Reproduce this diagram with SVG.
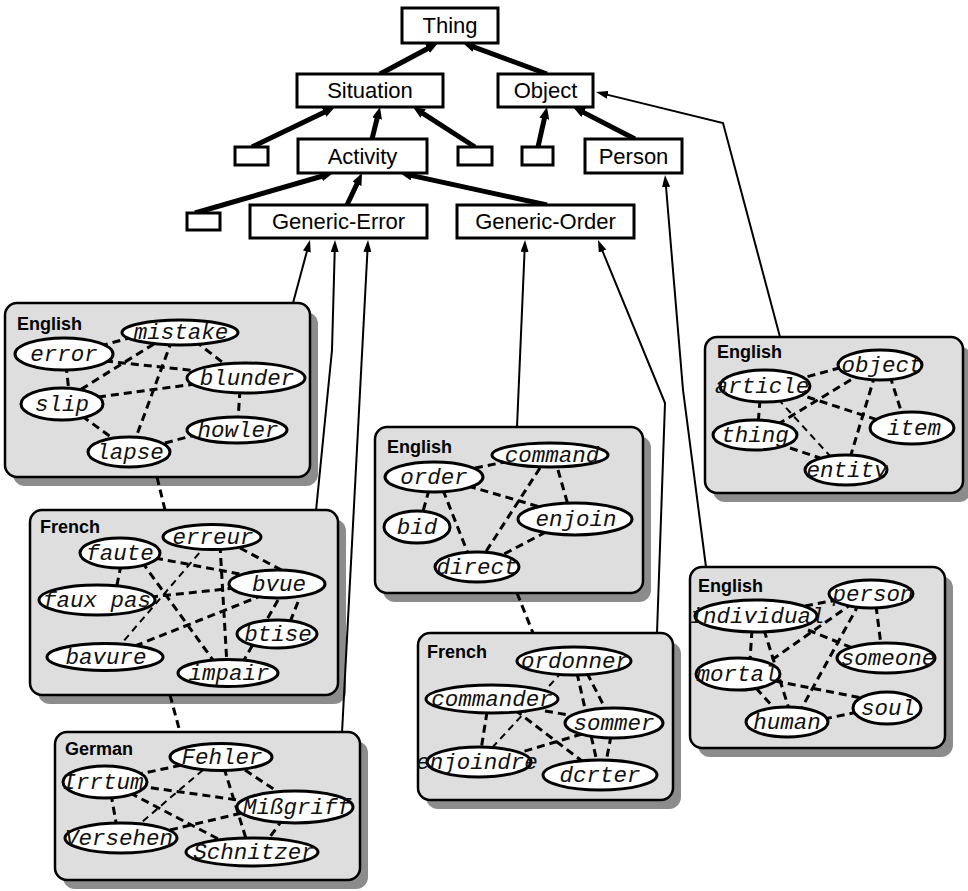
<svg xmlns="http://www.w3.org/2000/svg" width="968" height="891" viewBox="0 0 968 891">
<style>
.box{fill:#fff;stroke:#000;stroke-width:3}
.bt{font-family:"Liberation Sans",Arial,sans-serif;font-size:22px;text-anchor:middle;fill:#000}
.sh{fill:#8c8c8c}
.pn{fill:#dedede;stroke:#000;stroke-width:2.5}
.pl{font-family:"Liberation Sans",Arial,sans-serif;font-size:18px;font-weight:bold;fill:#000}
.el{fill:#fff;stroke:#000;stroke-width:3}
.wt{font-family:"Liberation Mono","Courier New",monospace;font-style:italic;font-size:22.5px;text-anchor:middle;fill:#111}
.th{stroke:#000;stroke-width:5;fill:none;marker-end:url(#ah)}
.tn{stroke:#000;stroke-width:2;fill:none;marker-end:url(#at)}
.d{stroke:#000;stroke-width:3;stroke-dasharray:8 5;fill:none}
.dt{stroke:#000;stroke-width:2;stroke-dasharray:7 5;fill:none}
</style>
<defs>
<marker id="ah" markerUnits="userSpaceOnUse" markerWidth="12" markerHeight="10" refX="3" refY="5" orient="auto"><path d="M0,0 L12,5 L0,10 z" fill="#000"/></marker>
<marker id="at" markerUnits="userSpaceOnUse" markerWidth="12" markerHeight="8" refX="4" refY="4" orient="auto"><path d="M0,0 L12,4 L0,8 z" fill="#000"/></marker>
</defs>
<rect width="968" height="891" fill="#fff"/>

<!-- panels -->
<g id="panel-en-error"><rect class="sh" x="13" y="312" width="305" height="174" rx="12"/><rect class="pn" x="5" y="303" width="305" height="174" rx="12"/><text class="pl" x="17" y="330">English</text></g>
<g id="panel-fr-error"><rect class="sh" x="38" y="519" width="308" height="185" rx="12"/><rect class="pn" x="30" y="510" width="308" height="185" rx="12"/><text class="pl" x="40" y="533">French</text></g>
<g id="panel-de-error"><rect class="sh" x="63" y="741" width="305" height="148" rx="12"/><rect class="pn" x="55" y="732" width="305" height="148" rx="12"/><text class="pl" x="65" y="755">German</text></g>
<g id="panel-en-order"><rect class="sh" x="383" y="436" width="268" height="166" rx="12"/><rect class="pn" x="375" y="427" width="268" height="166" rx="12"/><text class="pl" x="387" y="453">English</text></g>
<g id="panel-fr-order"><rect class="sh" x="426" y="642" width="255" height="167" rx="12"/><rect class="pn" x="418" y="633" width="255" height="167" rx="12"/><text class="pl" x="427" y="658">French</text></g>
<g id="panel-en-object"><rect class="sh" x="713" y="346" width="258" height="156" rx="12"/><rect class="pn" x="705" y="337" width="258" height="156" rx="12"/><text class="pl" x="717" y="358">English</text></g>
<g id="panel-en-person"><rect class="sh" x="698" y="576" width="255" height="181" rx="12"/><rect class="pn" x="690" y="567" width="255" height="181" rx="12"/><text class="pl" x="698" y="592">English</text></g>

<!-- connectors -->
<g id="connectors">
<!-- hierarchy -->
<line class="th" x1="380" y1="74" x2="430.1" y2="47.2"/>
<line class="th" x1="547" y1="74" x2="471.4" y2="46.1"/>
<line class="th" x1="252" y1="147" x2="326.9" y2="110.9"/>
<line class="th" x1="372" y1="139" x2="377.8" y2="115.7"/>
<line class="th" x1="475" y1="147" x2="420.6" y2="111.9"/>
<line class="th" x1="538" y1="147" x2="545" y2="115.8"/>
<line class="th" x1="635" y1="139" x2="581" y2="111.1"/>
<line class="th" x1="195" y1="213" x2="324.4" y2="175.5"/>
<line class="th" x1="347" y1="205" x2="358.2" y2="181.2"/>
<line class="th" x1="547" y1="205" x2="408.8" y2="174.9"/>
<!-- links to top ontology -->
<line class="tn" x1="293" y1="303" x2="307.9" y2="247.7"/>
<polyline class="tn" points="316,511 332,350 334.8,248"/>
<line class="tn" x1="342" y1="733" x2="367.6" y2="248"/>
<line class="tn" x1="517" y1="427" x2="524.7" y2="248"/>
<polyline class="tn" points="657,633 665,403 601,247.4"/>
<polyline class="tn" points="706,567 683,390 665.7,183"/>
<polyline class="tn" points="780,337 723,123 603.8,93.9"/>
<!-- equivalence links between panels -->
<line class="d" x1="157" y1="477" x2="165" y2="510"/>
<line class="d" x1="170" y1="695" x2="180" y2="732"/>
<line class="d" x1="517" y1="593" x2="533" y2="633"/>
<!-- English error -->
<line class="d" x1="100" y1="346" x2="140" y2="335"/>
<line class="d" x1="165" y1="337" x2="80" y2="390"/>
<line class="d" x1="105" y1="361" x2="198" y2="371"/>
<line class="d" x1="195" y1="341" x2="226" y2="365"/>
<line class="d" x1="66" y1="365" x2="69" y2="392"/>
<line class="d" x1="98" y1="397" x2="195" y2="384"/>
<line class="d" x1="172" y1="340" x2="135" y2="440"/>
<line class="d" x1="82" y1="416" x2="115" y2="440"/>
<line class="d" x1="165" y1="443" x2="195" y2="435"/>
<line class="d" x1="240" y1="390" x2="238" y2="420"/>
<!-- French error -->
<line class="d" x1="155" y1="558" x2="245" y2="575"/>
<line class="d" x1="240" y1="548" x2="285" y2="572"/>
<line class="dt" x1="207" y1="544" x2="122" y2="643"/>
<line class="d" x1="220" y1="545" x2="227" y2="665"/>
<line class="d" x1="121" y1="565" x2="116" y2="590"/>
<line class="d" x1="142" y1="562" x2="218" y2="667"/>
<line class="d" x1="150" y1="597" x2="235" y2="588"/>
<line class="d" x1="135" y1="646" x2="258" y2="597"/>
<line class="d" x1="298" y1="602" x2="290" y2="622"/>
<line class="d" x1="278" y1="600" x2="243" y2="662"/>
<!-- German -->
<line class="d" x1="135" y1="775" x2="182" y2="765"/>
<line class="dt" x1="203" y1="770" x2="136" y2="827"/>
<line class="d" x1="224" y1="768" x2="248" y2="845"/>
<line class="d" x1="245" y1="770" x2="278" y2="792"/>
<line class="d" x1="138" y1="786" x2="245" y2="801"/>
<line class="d" x1="111" y1="794" x2="117" y2="828"/>
<line class="d" x1="130" y1="793" x2="226" y2="843"/>
<line class="d" x1="170" y1="830" x2="246" y2="812"/>
<line class="d" x1="283" y1="819" x2="267" y2="841"/>
<!-- English order -->
<line class="d" x1="475" y1="468" x2="505" y2="462"/>
<line class="d" x1="540" y1="468" x2="485" y2="553"/>
<line class="d" x1="558" y1="470" x2="568" y2="505"/>
<line class="d" x1="468" y1="486" x2="540" y2="507"/>
<line class="d" x1="429" y1="490" x2="422" y2="515"/>
<line class="d" x1="443" y1="490" x2="469" y2="556"/>
<line class="d" x1="546" y1="532" x2="504" y2="554"/>
<!-- French order -->
<line class="dt" x1="562" y1="672" x2="490" y2="750"/>
<line class="d" x1="577" y1="673" x2="597" y2="762"/>
<line class="d" x1="587" y1="673" x2="606" y2="710"/>
<line class="d" x1="545" y1="711" x2="575" y2="716"/>
<line class="d" x1="487" y1="712" x2="481" y2="750"/>
<line class="d" x1="515" y1="710" x2="582" y2="761"/>
<line class="d" x1="582" y1="734" x2="505" y2="757"/>
<line class="d" x1="611" y1="736" x2="606" y2="762"/>
<!-- English object -->
<line class="d" x1="795" y1="380" x2="843" y2="367"/>
<line class="d" x1="862" y1="373" x2="775" y2="426"/>
<line class="d" x1="795" y1="393" x2="878" y2="420"/>
<line class="d" x1="875" y1="375" x2="850" y2="458"/>
<line class="d" x1="890" y1="376" x2="902" y2="414"/>
<line class="d" x1="760" y1="400" x2="758" y2="425"/>
<line class="dt" x1="778" y1="399" x2="830" y2="456"/>
<line class="d" x1="790" y1="448" x2="820" y2="458"/>
<!-- English person -->
<line class="d" x1="805" y1="606" x2="842" y2="599"/>
<line class="d" x1="853" y1="603" x2="766" y2="664"/>
<line class="d" x1="859" y1="604" x2="799" y2="713"/>
<line class="d" x1="876" y1="606" x2="881" y2="645"/>
<line class="d" x1="808" y1="630" x2="855" y2="649"/>
<line class="d" x1="752" y1="630" x2="750" y2="660"/>
<line class="d" x1="764" y1="630" x2="790" y2="712"/>
<line class="d" x1="775" y1="681" x2="862" y2="698"/>
<line class="d" x1="756" y1="688" x2="774" y2="708"/>
<line class="d" x1="824" y1="719" x2="858" y2="712"/>
</g>

<!-- top ontology nodes -->
<g id="n-thing"><rect class="box" x="402" y="8" width="96" height="35"/><text class="bt" x="450" y="33">Thing</text></g>
<g id="n-situation"><rect class="box" x="297" y="74" width="146" height="33"/><text class="bt" x="370" y="98">Situation</text></g>
<g id="n-object"><rect class="box" x="498" y="74" width="95" height="33"/><text class="bt" x="545.5" y="98">Object</text></g>
<g id="n-activity"><rect class="box" x="298" y="139" width="129" height="34"/><text class="bt" x="362.5" y="164">Activity</text></g>
<g id="n-small1"><rect class="box" x="235" y="147" width="33" height="18"/></g>
<g id="n-small2"><rect class="box" x="458" y="147" width="34" height="18"/></g>
<g id="n-small3"><rect class="box" x="522" y="147" width="31" height="18"/></g>
<g id="n-person"><rect class="box" x="585" y="139" width="97" height="34"/><text class="bt" x="633.5" y="164">Person</text></g>
<g id="n-small4"><rect class="box" x="187" y="213" width="33" height="17"/></g>
<g id="n-generic-error"><rect class="box" x="250" y="205" width="177" height="33"/><text class="bt" x="338.5" y="229">Generic-Error</text></g>
<g id="n-generic-order"><rect class="box" x="457" y="205" width="177" height="33"/><text class="bt" x="545.5" y="229">Generic-Order</text></g>

<!-- English error words -->
<g id="w-mistake"><ellipse class="el" cx="180" cy="332.5" rx="58" ry="12.5"/><text class="wt" x="181" y="339">mistake</text></g>
<g id="w-error"><ellipse class="el" cx="64" cy="354" rx="49" ry="16"/><text class="wt" x="64" y="361">error</text></g>
<g id="w-blunder"><ellipse class="el" cx="246" cy="378" rx="59" ry="15"/><text class="wt" x="247" y="385">blunder</text></g>
<g id="w-slip"><ellipse class="el" cx="62" cy="404" rx="41" ry="16"/><text class="wt" x="62" y="411">slip</text></g>
<g id="w-howler"><ellipse class="el" cx="237" cy="430" rx="50" ry="13"/><text class="wt" x="238" y="437">howler</text></g>
<g id="w-lapse"><ellipse class="el" cx="129" cy="452" rx="41" ry="15"/><text class="wt" x="130" y="459">lapse</text></g>

<!-- French error words -->
<g id="w-erreur"><ellipse class="el" cx="212" cy="537" rx="49" ry="12.5"/><text class="wt" x="213" y="544">erreur</text></g>
<g id="w-faute"><ellipse class="el" cx="120" cy="553" rx="40" ry="15"/><text class="wt" x="120" y="560">faute</text></g>
<g id="w-bvue"><ellipse class="el" cx="277" cy="584" rx="48" ry="14"/><text class="wt" x="279" y="591">bvue</text></g>
<g id="w-fauxpas"><ellipse class="el" cx="97" cy="600" rx="58" ry="15"/><text class="wt" x="97" y="607">faux pas</text></g>
<g id="w-btise"><ellipse class="el" cx="277" cy="634" rx="40" ry="14"/><text class="wt" x="278" y="641">btise</text></g>
<g id="w-bavure"><ellipse class="el" cx="105" cy="657" rx="58" ry="13.5"/><text class="wt" x="106" y="664">bavure</text></g>
<g id="w-impair"><ellipse class="el" cx="228" cy="673" rx="50" ry="13.5"/><text class="wt" x="229" y="680">impair</text></g>

<!-- German words -->
<g id="w-fehler"><ellipse class="el" cx="221" cy="757" rx="51" ry="13.5"/><text class="wt" x="222" y="764">Fehler</text></g>
<g id="w-irrtum"><ellipse class="el" cx="105" cy="782" rx="42" ry="16"/><text class="wt" x="103" y="789">Irrtum</text></g>
<g id="w-missgriff"><ellipse class="el" cx="295" cy="807" rx="58" ry="16"/><text class="wt" x="297" y="814">Mißgriff</text></g>
<g id="w-versehen"><ellipse class="el" cx="121" cy="838" rx="56" ry="15"/><text class="wt" x="119" y="845">Versehen</text></g>
<g id="w-schnitzer"><ellipse class="el" cx="252" cy="852" rx="66" ry="14"/><text class="wt" x="254" y="859">Schnitzer</text></g>

<!-- English order words -->
<g id="w-command"><ellipse class="el" cx="550" cy="455" rx="58" ry="12"/><text class="wt" x="552" y="462">command</text></g>
<g id="w-order"><ellipse class="el" cx="434" cy="477" rx="49" ry="15"/><text class="wt" x="434" y="484">order</text></g>
<g id="w-bid"><ellipse class="el" cx="417" cy="527" rx="33" ry="16"/><text class="wt" x="417" y="534">bid</text></g>
<g id="w-enjoin"><ellipse class="el" cx="575" cy="519" rx="57" ry="16"/><text class="wt" x="576" y="526">enjoin</text></g>
<g id="w-direct"><ellipse class="el" cx="477" cy="567" rx="42" ry="15"/><text class="wt" x="477" y="574">direct</text></g>

<!-- French order words -->
<g id="w-ordonner"><ellipse class="el" cx="574" cy="661" rx="57" ry="14"/><text class="wt" x="575" y="668">ordonner</text></g>
<g id="w-commander"><ellipse class="el" cx="492" cy="699" rx="66" ry="14"/><text class="wt" x="492" y="706">commander</text></g>
<g id="w-sommer"><ellipse class="el" cx="614" cy="723" rx="49" ry="15"/><text class="wt" x="614" y="730">sommer</text></g>
<g id="w-enjoindre"><ellipse class="el" cx="479" cy="762" rx="52" ry="15"/><text class="wt" x="477" y="769">enjoindre</text></g>
<g id="w-dcrter"><ellipse class="el" cx="600" cy="775" rx="57" ry="15"/><text class="wt" x="600" y="782">dcrter</text></g>

<!-- English object words -->
<g id="w-object"><ellipse class="el" cx="880" cy="365" rx="42" ry="15"/><text class="wt" x="882" y="372">object</text></g>
<g id="w-article"><ellipse class="el" cx="765" cy="386" rx="45" ry="16"/><text class="wt" x="762" y="393">article</text></g>
<g id="w-thing"><ellipse class="el" cx="755" cy="435" rx="42" ry="15"/><text class="wt" x="755" y="442">thing</text></g>
<g id="w-item"><ellipse class="el" cx="912" cy="428" rx="42" ry="16"/><text class="wt" x="914" y="435">item</text></g>
<g id="w-entity"><ellipse class="el" cx="846" cy="470" rx="41" ry="15"/><text class="wt" x="847" y="477">entity</text></g>

<!-- English person words -->
<g id="w-person"><ellipse class="el" cx="871" cy="594" rx="42" ry="14"/><text class="wt" x="873" y="601">person</text></g>
<g id="w-individual"><ellipse class="el" cx="756" cy="616" rx="61" ry="16"/><text class="wt" x="757" y="623">individual</text></g>
<g id="w-someone"><ellipse class="el" cx="886" cy="658" rx="49" ry="15"/><text class="wt" x="888" y="665">someone</text></g>
<g id="w-mortal"><ellipse class="el" cx="738" cy="674" rx="42" ry="16"/><text class="wt" x="737" y="681">mortal</text></g>
<g id="w-soul"><ellipse class="el" cx="887" cy="708" rx="34" ry="16"/><text class="wt" x="888" y="715">soul</text></g>
<g id="w-human"><ellipse class="el" cx="787" cy="722" rx="41" ry="15"/><text class="wt" x="787" y="729">human</text></g>
</svg>
